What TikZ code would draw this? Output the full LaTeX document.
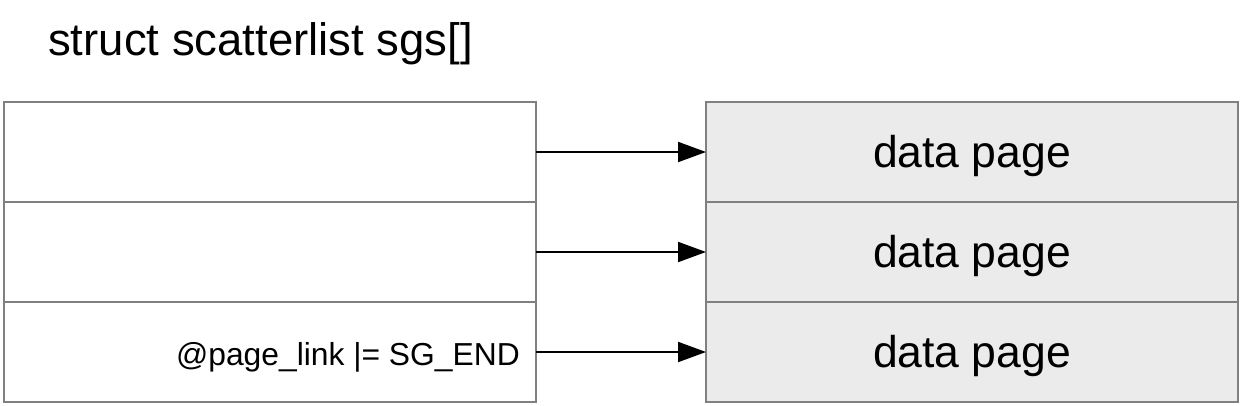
\documentclass[tikz,border=0pt]{standalone}
\usepackage{fontspec}
\setmainfont{Liberation Sans}
\usetikzlibrary{arrows.meta}
\definecolor{boxgray}{HTML}{808080}
\definecolor{pagefill}{HTML}{EBEBEB}
\tikzset{
  cell/.style={draw=boxgray, line width=2.2pt, minimum width=532pt, minimum height=100pt, inner sep=0pt, outer sep=0pt, anchor=north west},
  pagecell/.style={cell, fill=pagefill, font=\fontsize{44.5}{50}\selectfont, text height=32pt, text depth=2pt},
  link/.style={line width=2pt, -{Triangle[length=28pt,width=20pt]}},
}
\begin{document}
\begin{tikzpicture}[x=1pt,y=-1pt]
\useasboundingbox (0,0) rectangle (1241,405);
\node[anchor=base west, inner sep=0pt, font=\fontsize{45.5}{52}\selectfont] (title) at (48,55) {struct scatterlist sgs[]};
\node[cell] (L1) at (4,102) {};
\node[cell] (L2) at (4,202) {};
\node[cell] (L3) at (4,302) {};
\node[pagecell] (R1) at (706,102) {data page};
\node[pagecell] (R2) at (706,202) {data page};
\node[pagecell] (R3) at (706,302) {data page};
\node[anchor=base east, inner sep=0pt, font=\fontsize{31.8}{36}\selectfont] (lbl) at (520,365) {@page\_link |= SG\_END};
\draw[link] (L1.east) -- (R1.west);
\draw[link] (L2.east) -- (R2.west);
\draw[link] (L3.east) -- (R3.west);
\end{tikzpicture}
\end{document}
